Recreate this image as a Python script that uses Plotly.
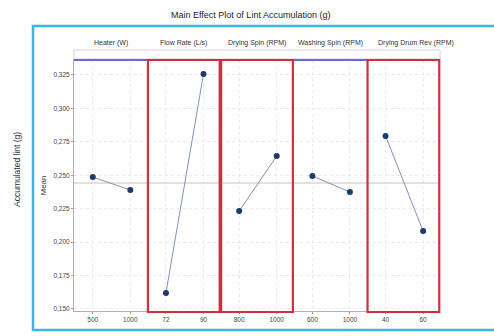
import plotly.graph_objects as go

title = "Main Effect Plot of Lint Accumulation (g)"
factors = ["Heater (W)", "Flow Rate (L/s)", "Drying Spin (RPM)", "Washing Spin (RPM)", "Drying Drum Rev (RPM)"]
levels = [["500", "1000"], ["72", "90"], ["800", "1000"], ["600", "1000"], ["40", "60"]]
means = [[0.2487, 0.2390], [0.1620, 0.3258], [0.2233, 0.2644], [0.2495, 0.2375], [0.2794, 0.2083]]
grand_mean = 0.2442
highlighted = [False, True, True, False, True]
y_ticks = [0.150, 0.175, 0.200, 0.225, 0.250, 0.275, 0.300, 0.325]

W, H = 494, 336
L, R, T, B = 74, 440, 60, 311

def px(x):
    return (x - L) / (R - L)

def py(y):
    return (B - y) / (B - T)

fig = go.Figure()
n = len(factors)
for i in range(n):
    ax = "" if i == 0 else str(i + 1)
    fig.add_trace(go.Scatter(
        x=levels[i], y=means[i], mode="lines+markers",
        line=dict(color="#7f93b8", width=1),
        marker=dict(color="#1c3a6b", size=6),
        xaxis="x" + ax, yaxis="y", showlegend=False, cliponaxis=False))
    d0 = i / n
    d1 = (i + 1) / n
    fig.layout["xaxis" + ax] = dict(
        domain=[d0, d1], type="category", range=[-0.5, 1.45], anchor="y",
        showline=True, mirror=True, linecolor="#b0b0b0", linewidth=1,
        showgrid=True, gridcolor="#e6eaf0", griddash="dot",
        ticks="outside", ticklen=2, tickcolor="#999",
        tickfont=dict(size=6.5, color="#444"), zeroline=False)
    if i < n - 1:
        fig.add_annotation(x=(d0 + d1) / 2, y=py(43), xref="paper", yref="paper",
                           xanchor="center", yanchor="middle",
                           text=factors[i], showarrow=False,
                           font=dict(size=7, color="#333"))
    else:
        fig.add_annotation(x=d0 + 0.025, y=py(43), xref="paper", yref="paper",
                           xanchor="left", yanchor="middle",
                           text=factors[i], showarrow=False,
                           font=dict(size=7, color="#333"))

fig.update_layout(
    width=W, height=H, margin=dict(l=L, r=W - R, t=T, b=H - B),
    paper_bgcolor="white", plot_bgcolor="white",
    separators=", ",
    font=dict(family="Liberation Sans, DejaVu Sans, sans-serif"),
    yaxis=dict(range=[0.1485, 0.3362], tickvals=y_ticks, tickformat=".3f",
               showgrid=True, gridcolor="#e6eaf0", griddash="dot",
               ticks="outside", ticklen=2, tickcolor="#999",
               tickfont=dict(size=6.5, color="#444"), zeroline=False,
               showline=True, linecolor="#b0b0b0",
               title=dict(text="Mean", font=dict(size=8, color="#333"), standoff=5)),
)

# grand mean reference line
fig.add_shape(type="line", xref="paper", yref="y", x0=0, x1=1, y0=grand_mean, y1=grand_mean,
              line=dict(color="#c9c2b4", width=1), layer="below")

# title
fig.add_annotation(x=px(250), y=py(15), xref="paper", yref="paper", text=title,
                   xanchor="center", yanchor="middle",
                   showarrow=False, font=dict(size=9, color="#222"))
# outer label
fig.add_annotation(x=px(17), y=py(170), xref="paper", yref="paper", text="Accumulated lint (g)",
                   xanchor="center", yanchor="middle",
                   textangle=-90, showarrow=False, font=dict(size=8.5, color="#333"))

# outer cyan frame
fig.add_shape(type="rect", xref="paper", yref="paper", x0=px(33), x1=px(505), y0=py(26), y1=py(330),
              line=dict(color="#3db4e3", width=2.5))
# header strip
fig.add_shape(type="rect", xref="paper", yref="paper", x0=0, x1=1, y0=py(59), y1=py(50),
              line=dict(color="#d8d0d0", width=1))
# top blue line
fig.add_shape(type="line", xref="paper", yref="paper", x0=0, x1=1, y0=py(60), y1=py(60),
              line=dict(color="#6a6ad6", width=2))
# red boxes for highlighted factors
for i in range(n):
    if highlighted[i]:
        fig.add_shape(type="rect", xref="paper", yref="paper",
                      x0=i / n + 0.002, x1=(i + 1) / n - 0.002, y0=py(312), y1=py(60),
                      line=dict(color="#d0303e", width=2.2))

fig.write_html("out.html")
